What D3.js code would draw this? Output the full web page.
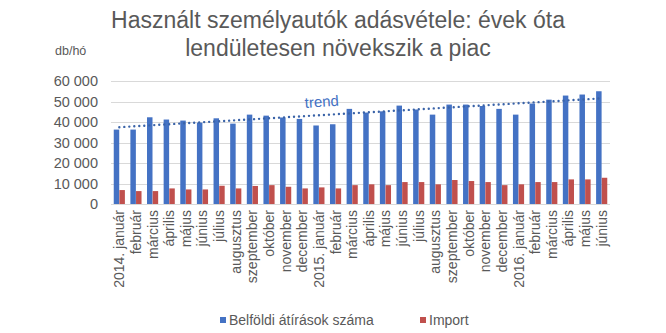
<!DOCTYPE html>
<html><head><meta charset="utf-8">
<script src="https://cdn.jsdelivr.net/npm/d3@7"></script>
<style>body{margin:0;background:#fff}svg{display:block;font-family:"Liberation Sans",Arial,sans-serif}</style>
</head><body>
<svg id="c" width="666" height="333"></svg>
<script>
const categories = ["2014. január","február","március","április","május","június","július","augusztus","szeptember","október","november","december",
"2015. január","február","március","április","május","június","július","augusztus","szeptember","október","november","december",
"2016. január","február","március","április","május","június"];
const belfoldi = [36300,36300,42300,41200,40700,39700,41800,39200,43600,43100,42200,41500,
38300,38900,46400,44600,45200,48000,46100,43600,48500,48500,47800,46400,
43600,49000,50900,52900,53400,55000];
const importVals = [6800,6300,6300,7600,7100,7100,8900,7600,8800,9200,8400,7600,
8100,7600,9200,9600,9200,10700,10700,9600,11700,11200,10700,9200,
9600,10700,10700,12000,12000,12800];
const yTicks = [0,10000,20000,30000,40000,50000,60000];
const seriesNames = ["Belföldi átírások száma","Import"];
const colors = ["#4472c4","#c0504d"];

const svg = d3.select("#c");
const L=111, R=610, T=81, B=204;
const x = d3.scaleBand().domain(d3.range(categories.length)).range([L,R]).paddingInner(0);
const bw = x.bandwidth();
const sub = d3.scaleBand().domain([0,1]).range([bw*0.165, bw*0.835]).paddingInner(0.03);
const y = d3.scaleLinear().domain([0,60000]).range([B,T]);
const fmt = v => d3.format(",")(v).replace(/,/g," ");

// grid
svg.append("g").selectAll("line").data(yTicks).join("line")
  .attr("x1",L).attr("x2",R).attr("y1",d=>Math.round(y(d))+0.5).attr("y2",d=>Math.round(y(d))+0.5)
  .attr("stroke","#d9d9d9").attr("stroke-width",1);

// y labels
svg.append("g").selectAll("text").data(yTicks).join("text")
  .attr("x",98).attr("y",d=>y(d)+5).attr("text-anchor","end")
  .attr("font-size","14.5px").attr("fill","#595959").text(d=>fmt(d));

// bars
[belfoldi, importVals].forEach((arr,si)=>{
  svg.append("g").selectAll("rect").data(arr).join("rect")
    .attr("x",(d,i)=>x(i)+sub(si)).attr("width",sub.bandwidth())
    .attr("y",d=>y(d)).attr("height",d=>y(0)-y(d)).attr("fill",colors[si]);
});

// x labels
svg.append("g").selectAll("text").data(categories).join("text")
  .attr("transform",(d,i)=>`translate(${x(i)+bw/2+5},210) rotate(-90)`)
  .attr("text-anchor","end").attr("font-size","14px").attr("fill","#595959").text(d=>d);

// trend (linear regression of domestic series)
const n = belfoldi.length, xs = d3.range(n);
const mx = d3.mean(xs), my = d3.mean(belfoldi);
const slope = d3.sum(xs,(xi,i)=>(xi-mx)*(belfoldi[i]-my))/d3.sum(xs,xi=>(xi-mx)**2);
const icpt = my - slope*mx;
const line = d3.line().x(i=>x(i)+bw/2).y(i=>y(icpt+slope*i));
svg.append("path").datum([0,n-1]).attr("d",line).attr("fill","none")
  .attr("stroke","#3a63a8").attr("stroke-width",2.4).attr("stroke-dasharray","0,5").attr("stroke-linecap","round");
svg.append("text").attr("transform","translate(305,108) rotate(-4)")
  .attr("font-size","15px").attr("fill","#4472c4").text("trend");

// title
svg.append("text").attr("x",338).attr("y",28).attr("text-anchor","middle")
  .attr("font-size","23px").attr("fill","#595959").text("Használt személyautók adásvétele: évek óta");
svg.append("text").attr("x",338).attr("y",56).attr("text-anchor","middle")
  .attr("font-size","23px").attr("fill","#595959").text("lendületesen növekszik a piac");
svg.append("text").attr("x",55).attr("y",55).attr("font-size","12.5px").attr("fill","#595959").text("db/hó");

// legend
const leg = [{x:220},{x:420}];
seriesNames.forEach((s,i)=>{
  svg.append("rect").attr("x",leg[i].x).attr("y",317).attr("width",6).attr("height",6).attr("fill",colors[i]);
  svg.append("text").attr("x",leg[i].x+9).attr("y",325).attr("font-size","14px").attr("fill","#595959").text(s);
});
</script>
</body></html>
